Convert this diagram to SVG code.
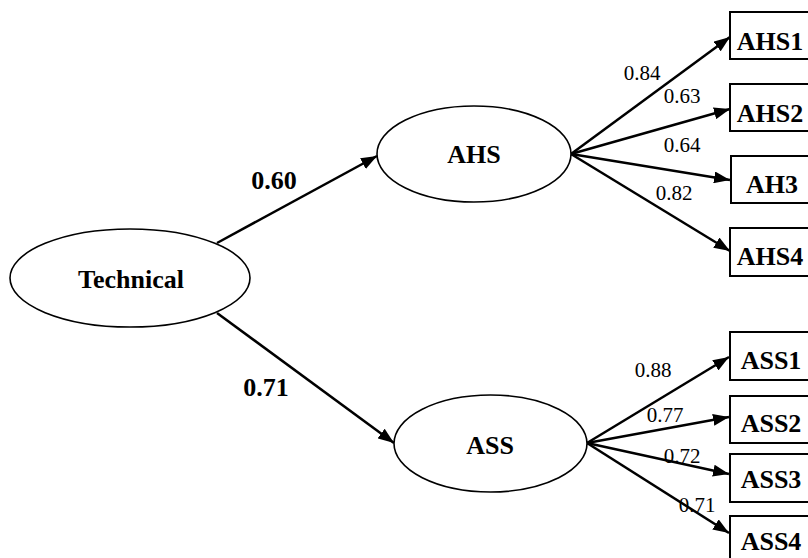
<svg xmlns="http://www.w3.org/2000/svg" width="808" height="558" viewBox="0 0 808 558">
<defs>
<marker id="arr" markerUnits="userSpaceOnUse" markerWidth="16" markerHeight="12" refX="16" refY="6" orient="auto">
<path d="M0,0 L16,6 L0,12 z" fill="#000"/>
</marker>
<style>
text{font-family:'Liberation Serif','DejaVu Serif',serif;text-anchor:middle;fill:#000}
.ell{fill:#fff;stroke:#000;stroke-width:1.6}
.box{fill:#fff;stroke:#000;stroke-width:2}
.lbl{font-weight:bold;font-size:26px}
.num{font-size:21px}
.bnum{font-weight:bold;font-size:26px}
.edge{stroke:#000;stroke-width:2.5;fill:none;marker-end:url(#arr)}
</style>
</defs>
<rect width="808" height="558" fill="#fff"/>
<g id="connectors">
<line class="edge" x1="217" y1="243" x2="377" y2="156"/>
<line class="edge" x1="217" y1="313" x2="394" y2="443"/>
<line class="edge" x1="571" y1="154" x2="730" y2="37"/>
<line class="edge" x1="571" y1="154" x2="730" y2="109"/>
<line class="edge" x1="571" y1="154" x2="730" y2="180"/>
<line class="edge" x1="571" y1="154" x2="730" y2="251"/>
<line class="edge" x1="587" y1="443" x2="729" y2="357"/>
<line class="edge" x1="587" y1="443" x2="729" y2="417"/>
<line class="edge" x1="587" y1="443" x2="729" y2="474"/>
<line class="edge" x1="587" y1="443" x2="729" y2="533"/>
<text class="bnum" x="274" y="189">0.60</text>
<text class="bnum" x="266" y="396">0.71</text>
<text class="num" x="642" y="80">0.84</text>
<text class="num" x="682" y="103">0.63</text>
<text class="num" x="682" y="152">0.64</text>
<text class="num" x="674" y="200">0.82</text>
<text class="num" x="653" y="377">0.88</text>
<text class="num" x="665" y="422">0.77</text>
<text class="num" x="682" y="463">0.72</text>
<text class="num" x="697" y="512">0.71</text>
</g>
<g id="Technical">
<ellipse class="ell" cx="130" cy="278" rx="120" ry="49"/>
<text class="lbl" x="131" y="288">Technical</text>
</g>
<g id="AHS">
<ellipse class="ell" cx="474" cy="154" rx="97" ry="48"/>
<text class="lbl" x="474" y="163">AHS</text>
</g>
<g id="ASS">
<ellipse class="ell" cx="490.5" cy="443.5" rx="96.5" ry="48.5"/>
<text class="lbl" x="490" y="454">ASS</text>
</g>
<g id="AHS1">
<rect class="box" x="730" y="12" width="84" height="47"/>
<text class="lbl" x="770" y="50">AHS1</text>
</g>
<g id="AHS2">
<rect class="box" x="730" y="84" width="84" height="47"/>
<text class="lbl" x="770" y="122">AHS2</text>
</g>
<g id="AH3">
<rect class="box" x="731" y="156" width="84" height="47"/>
<text class="lbl" x="772" y="193">AH3</text>
</g>
<g id="AHS4">
<rect class="box" x="730" y="228" width="84" height="48"/>
<text class="lbl" x="770" y="265">AHS4</text>
</g>
<g id="ASS1">
<rect class="box" x="730" y="332" width="84" height="48"/>
<text class="lbl" x="771" y="369">ASS1</text>
</g>
<g id="ASS2">
<rect class="box" x="730" y="396" width="84" height="47"/>
<text class="lbl" x="771" y="432">ASS2</text>
</g>
<g id="ASS3">
<rect class="box" x="730" y="454" width="84" height="48"/>
<text class="lbl" x="771" y="488">ASS3</text>
</g>
<g id="ASS4">
<rect class="box" x="730" y="516" width="84" height="48"/>
<text class="lbl" x="771" y="550">ASS4</text>
</g>
</svg>
